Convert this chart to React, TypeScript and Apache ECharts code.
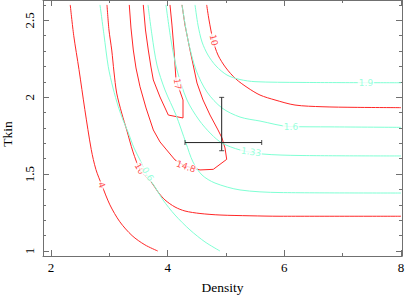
import React, { useEffect, useRef } from "react";
import * as echarts from "echarts";

const X_MIN = 1.863;
const X_MAX = 8.017;
const Y_MIN = 0.9675;
const Y_MAX = 2.632;

const xMajorTicks = [2, 4, 6, 8];
const xMinorTicks = [3, 5, 7];
const yMajorTicks = [1, 1.5, 2, 2.5];
const yMinorTicks = [1.1, 1.2, 1.3, 1.4, 1.6, 1.7, 1.8, 1.9, 2.1, 2.2, 2.3, 2.4, 2.6];

// red contours
const red4 = [[2.33, 2.6], [2.39, 2.4], [2.48, 2.18], [2.58, 1.92], [2.69, 1.66], [2.77, 1.53], [2.87, 1.43], [3.01, 1.3], [3.18, 1.19], [3.39, 1.1], [3.61, 1.04], [3.83, 1.0]];
const red10a = [[2.96, 2.6], [2.994, 2.437], [3.041, 2.307], [3.08, 2.164], [3.126, 2.027], [3.212, 1.897], [3.298, 1.787], [3.406, 1.644], [3.526, 1.527], [3.629, 1.481], [3.731, 1.442], [3.834, 1.384], [3.954, 1.332], [4.126, 1.286], [4.297, 1.26], [4.554, 1.244], [4.897, 1.234], [5.411, 1.229], [5.926, 1.226], [8.0, 1.226]];
const red148 = [[3.342, 2.6], [3.371, 2.45], [3.411, 2.307], [3.457, 2.19], [3.526, 2.068], [3.629, 1.93], [3.754, 1.787], [3.869, 1.709], [3.983, 1.657], [4.126, 1.592], [4.297, 1.553], [4.554, 1.527], [4.782, 1.531], [5.012, 1.596], [4.983, 1.67], [4.931, 1.735], [4.863, 1.787], [4.726, 1.884], [4.606, 1.982], [4.503, 2.092], [4.383, 2.307], [4.297, 2.469], [4.246, 2.6]];
const red17 = [[3.582, 2.6], [3.62, 2.437], [3.668, 2.307], [3.714, 2.196], [3.754, 2.112], [3.869, 2.001], [4.011, 1.884], [4.263, 1.865], [4.263, 1.982], [4.143, 2.112], [4.109, 2.307], [4.074, 2.469], [4.04, 2.6]];
const red10b = [[4.669, 2.6], [4.709, 2.502], [4.777, 2.372], [4.863, 2.274], [5.0, 2.19], [5.171, 2.118], [5.377, 2.06], [5.583, 2.014], [5.84, 1.982], [6.183, 1.949], [6.646, 1.938], [7.211, 1.934], [8.0, 1.932]];

// cyan contours
const cyan06 = [[2.84, 2.6], [2.909, 2.404], [2.982, 2.198], [3.063, 2.06], [3.154, 1.938], [3.234, 1.852], [3.32, 1.774], [3.423, 1.67], [3.526, 1.592], [3.646, 1.494], [3.783, 1.416], [3.92, 1.332], [4.126, 1.234], [4.383, 1.137], [4.64, 1.059], [4.897, 1.0]];
const cyan10 = [[3.663, 2.6], [3.731, 2.404], [3.817, 2.209], [3.954, 2.047], [4.143, 1.884], [4.314, 1.702], [4.434, 1.579], [4.589, 1.494], [4.811, 1.442], [5.24, 1.397], [5.926, 1.38], [8.0, 1.377]];
const cyan133 = [[3.971, 2.6], [4.057, 2.372], [4.16, 2.177], [4.331, 1.982], [4.537, 1.852], [4.743, 1.761], [4.931, 1.702], [5.24, 1.657], [5.617, 1.631], [6.269, 1.621], [8.0, 1.618]];
const cyan16 = [[4.246, 2.6], [4.349, 2.372], [4.486, 2.177], [4.674, 2.034], [4.931, 1.93], [5.24, 1.871], [5.583, 1.845], [6.097, 1.809], [6.783, 1.807], [8.0, 1.804]];
const cyan19 = [[4.469, 2.6], [4.52, 2.469], [4.589, 2.359], [4.691, 2.274], [4.829, 2.203], [5.017, 2.144], [5.24, 2.115], [5.497, 2.101], [6.269, 2.096], [8.0, 2.094]];

const labelTexts = ["4", "10", "0.6", "14.8", "17", "10", "1.33", "1.6", "1.9"];
const labelPos = [[2.869, 1.429], [3.52, 1.535], [3.66, 1.5], [4.314, 1.549], [4.169, 2.086], [4.79, 2.372], [5.43, 1.644], [6.114, 1.807], [7.4, 2.094]];
const labelRot = [-68, -60, -58, -20, -83, -76, -8, 0, 0];
const labelIsRed = [true, true, false, true, true, true, false, false, false];

const bestX = 4.926;
const bestY = 1.705;
const errX = [4.297, 5.612];
const errY = [1.652, 1.999];

const RED = "#ff2626";
const CYAN = "#7fffd4";
const AXIS = "#707070";
const SERIF = '"Liberation Serif", "DejaVu Serif", serif';
const SANS = '"DejaVu Sans", sans-serif';

function xAxis(position: string, ticks: number[], len: number, line: boolean, labels: boolean, extra: any = {}) {
  return {
    type: "value",
    min: X_MIN,
    max: X_MAX,
    position,
    axisLine: { show: line, onZero: false, lineStyle: { color: AXIS, width: 1 } },
    axisTick: { show: true, inside: true, length: len, customValues: ticks, lineStyle: { color: AXIS, width: 1 } },
    axisLabel: labels
      ? { show: true, customValues: ticks, color: "#000", fontFamily: SERIF, fontSize: 13, margin: 5, formatter: (v: number) => String(v) }
      : { show: false },
    splitLine: { show: false },
    ...extra,
  };
}

function yAxis(position: string, ticks: number[], len: number, line: boolean, labels: boolean, extra: any = {}) {
  return {
    type: "value",
    min: Y_MIN,
    max: Y_MAX,
    position,
    axisLine: { show: line, onZero: false, lineStyle: { color: AXIS, width: 1 } },
    axisTick: { show: true, inside: true, length: len, customValues: ticks, lineStyle: { color: AXIS, width: 1 } },
    axisLabel: labels
      ? { show: true, customValues: ticks, rotate: 90, color: "#000", fontFamily: SERIF, fontSize: 13, margin: 7, formatter: (v: number) => String(v) }
      : { show: false },
    splitLine: { show: false },
    ...extra,
  };
}

function contour(data: number[][], color: string, smooth: number | boolean) {
  return {
    type: "line",
    data,
    symbol: "none",
    smooth,
    lineStyle: { color, width: 1 },
    z: 2,
    silent: true,
  };
}

export default function App() {
  const ref = useRef<HTMLDivElement>(null);
  useEffect(() => {
    if (!ref.current) return;
    const chart = echarts.init(ref.current, null, { renderer: "svg" });
    const labelData = labelTexts.map((t, i) => ({
      value: labelPos[i],
      name: t,
      label: {
        rotate: labelRot[i],
        color: labelIsRed[i] ? RED : CYAN,
      },
    }));
    chart.setOption({
      animation: false,
      backgroundColor: "#fff",
      grid: { left: 43, top: 0, width: 359, height: 256, containLabel: false, outerBoundsMode: "none" },
      xAxis: [
        xAxis("bottom", xMajorTicks, 6, true, true, {
          name: "Density",
          nameLocation: "middle",
          nameGap: 24,
          nameTextStyle: { fontFamily: SERIF, fontSize: 13.5, color: "#000" },
        }),
        xAxis("bottom", xMinorTicks, 3, false, false),
        xAxis("top", xMajorTicks, 6, true, false),
        xAxis("top", xMinorTicks, 3, false, false),
      ],
      yAxis: [
        yAxis("left", yMajorTicks, 6, true, true, {
          name: "Tkin",
          nameLocation: "middle",
          nameGap: 29,
          nameTextStyle: { fontFamily: SERIF, fontSize: 13.5, color: "#000", padding: [0, 12, 0, 0] },
        }),
        yAxis("left", yMinorTicks, 3, false, false),
        yAxis("right", yMajorTicks, 6, true, false),
        yAxis("right", yMinorTicks, 3, false, false),
      ],
      series: [
        contour(red4, RED, 0.3),
        contour(red10a, RED, 0.3),
        contour(red148, RED, false),
        contour(red17, RED, false),
        contour(red10b, RED, 0.3),
        contour(cyan06, CYAN, 0.3),
        contour(cyan10, CYAN, 0.3),
        contour(cyan133, CYAN, 0.3),
        contour(cyan16, CYAN, 0.3),
        contour(cyan19, CYAN, 0.3),
        {
          type: "line",
          data: [[errX[0], bestY], [errX[1], bestY]],
          symbol: "none",
          lineStyle: { color: "#222", width: 1 },
          z: 4,
        },
        {
          type: "line",
          data: [[bestX, errY[0]], [bestX, errY[1]]],
          symbol: "none",
          lineStyle: { color: "#222", width: 1 },
          z: 4,
        },
        {
          type: "scatter",
          data: [[bestX, errY[0]], [bestX, errY[1]]],
          symbol: "rect",
          symbolSize: [5, 1],
          itemStyle: { color: "#222" },
          z: 4,
        },
        {
          type: "scatter",
          data: [[errX[0], bestY], [errX[1], bestY]],
          symbol: "rect",
          symbolSize: [1, 5],
          itemStyle: { color: "#222" },
          z: 4,
        },
        {
          type: "scatter",
          data: labelData,
          symbolSize: 0,
          z: 5,
          label: {
            show: true,
            position: "inside",
            formatter: (p: any) => p.name,
            fontFamily: SANS,
            fontSize: 9,
            backgroundColor: "#fff",
            padding: [0, 1],
          },
        },
      ],
    });
    return () => chart.dispose();
  }, []);
  return <div ref={ref} style={{ position: "absolute", left: 0, top: 0, width: 409, height: 297 }} />;
}
